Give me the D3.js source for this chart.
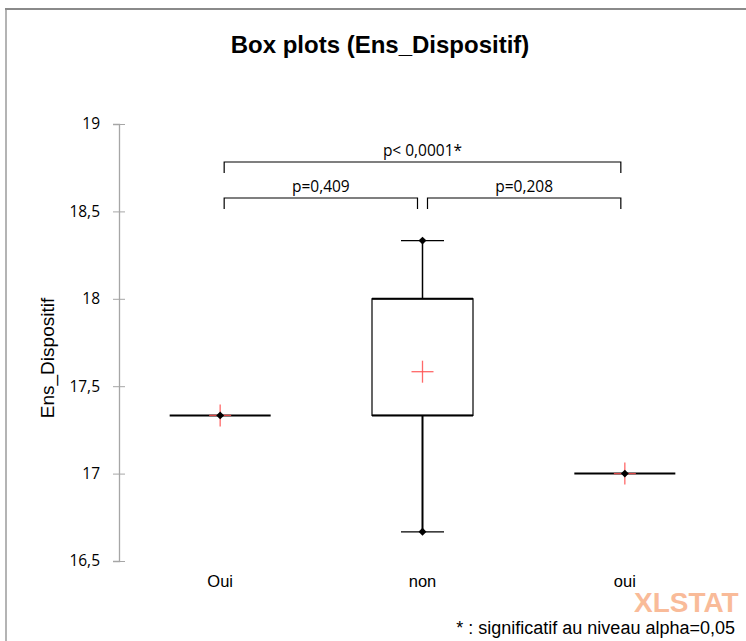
<!DOCTYPE html>
<html>
<head>
<meta charset="utf-8">
<script src="https://cdn.jsdelivr.net/npm/d3@7"></script>
<style>
  body { margin: 0; background: #fff; }
  svg { display: block; }
</style>
</head>
<body>
<div id="chart"></div>
<script>
// Data
var categories = ["Oui", "non", "oui"];
var minValues = [17.333, 16.667, 17];
var q1Values = [17.333, 17.333, 17];
var q3Values = [17.333, 18, 17];
var maxValues = [17.333, 18.333, 17];
var meanValues = [17.333, 17.583, 17];
var yTicks = [16.5, 17, 17.5, 18, 18.5, 19];
var comparisons = [
  { from: 0, to: 2, label: "p< 0,0001*", level: 1 },
  { from: 0, to: 1, label: "p=0,409", level: 0 },
  { from: 1, to: 2, label: "p=0,208", level: 0 }
];

var width = 746;
var height = 641;

var svg = d3.select('#chart')
  .append('svg')
  .attr('width', width)
  .attr('height', height);

// frame
svg.append('line').attr('x1', 6).attr('x2', 6).attr('y1', 9).attr('y2', height)
  .attr('stroke', '#b4b4b4').attr('stroke-width', 2);
svg.append('line').attr('x1', 5).attr('x2', width).attr('y1', 9).attr('y2', 9)
  .attr('stroke', '#8a8a8a').attr('stroke-width', 2);

// Scales
var yScale = d3.scaleLinear().domain([16.5, 19]).range([561, 124]);
var xScale = d3.scalePoint().domain(categories).range([119, 726]).padding(0.5);

// Title
svg.append('text')
  .attr('x', 380).attr('y', 53)
  .attr('text-anchor', 'middle')
  .style('font-family', 'Liberation Sans, Arial, sans-serif')
  .style('font-size', '24px').style('font-weight', 'bold')
  .text('Box plots (Ens_Dispositif)');

// Y axis
var yAxis = d3.axisLeft(yScale)
  .tickValues(yTicks)
  .tickSize(6)
  .tickFormat(function (d) { return String(d).replace('.', ','); });
var gy = svg.append('g')
  .attr('transform', 'translate(119,0)')
  .call(yAxis);
gy.select('.domain').attr('stroke', '#a6a6a6').attr('stroke-width', 1.3);
gy.selectAll('.tick line').attr('stroke', '#a6a6a6').attr('x1', 6).attr('x2', -6);
gy.selectAll('.tick text')
  .attr('x', -19)
  .style('font-family', 'Open Sans, sans-serif')
  .style('font-size', '15.5px')
  .attr('fill', '#000');

svg.append('text')
  .attr('transform', 'translate(54,' + 358 + ') rotate(-90)')
  .attr('text-anchor', 'middle')
  .style('font-family', 'Liberation Sans, Arial, sans-serif')
  .style('font-size', '19px')
  .text('Ens_Dispositif');

// Category labels
svg.selectAll('.cat')
  .data(categories)
  .enter()
  .append('text')
  .attr('class', 'cat')
  .attr('x', d => xScale(d))
  .attr('y', 587)
  .attr('text-anchor', 'middle')
  .style('font-family', 'Liberation Sans, Arial, sans-serif')
  .style('font-size', '16.5px')
  .text(d => d);

// Box plots
var boxW = 101;
var capW = 43;
categories.forEach(function (c, i) {
  var cx = xScale(c);
  var g = svg.append('g');
  // whiskers
  g.append('line').attr('x1', cx).attr('x2', cx)
    .attr('y1', yScale(maxValues[i])).attr('y2', yScale(q3Values[i]))
    .attr('stroke', '#000').attr('stroke-width', 1.5);
  g.append('line').attr('x1', cx).attr('x2', cx)
    .attr('y1', yScale(q1Values[i])).attr('y2', yScale(minValues[i]))
    .attr('stroke', '#000').attr('stroke-width', 2);
  if (maxValues[i] > q3Values[i]) {
    [maxValues[i], minValues[i]].forEach(function (v) {
      g.append('line').attr('x1', cx - capW / 2).attr('x2', cx + capW / 2)
        .attr('y1', yScale(v)).attr('y2', yScale(v))
        .attr('stroke', '#000').attr('stroke-width', 1.3);
    });
  }
  // box
  var h = yScale(q1Values[i]) - yScale(q3Values[i]);
  if (h > 0) {
    g.append('rect')
      .attr('x', cx - boxW / 2).attr('y', yScale(q3Values[i]))
      .attr('width', boxW).attr('height', h)
      .attr('fill', 'none').attr('stroke', '#000').attr('stroke-width', 1.2);
    [q1Values[i], q3Values[i]].forEach(function (v) {
      g.append('line').attr('x1', cx - boxW / 2).attr('x2', cx + boxW / 2)
        .attr('y1', yScale(v)).attr('y2', yScale(v))
        .attr('stroke', '#000').attr('stroke-width', 2);
    });
  } else {
    g.append('line').attr('x1', cx - boxW / 2).attr('x2', cx + boxW / 2)
      .attr('y1', yScale(q1Values[i])).attr('y2', yScale(q1Values[i]))
      .attr('stroke', '#000').attr('stroke-width', 2);
  }
  // mean (red cross)
  var my = yScale(meanValues[i]);
  g.append('line').attr('x1', cx - 11).attr('x2', cx + 11).attr('y1', my).attr('y2', my)
    .attr('stroke', '#ff5050').attr('stroke-width', 1.3).attr('opacity', 0.85);
  g.append('line').attr('x1', cx).attr('x2', cx).attr('y1', my - 11).attr('y2', my + 11)
    .attr('stroke', '#ff5050').attr('stroke-width', 1.3).attr('opacity', 0.85);
  // min / max diamonds
  var pts = h > 0 ? [minValues[i], maxValues[i]] : [minValues[i]];
  pts.forEach(function (v) {
    g.append('path')
      .attr('d', d3.symbol().type(d3.symbolDiamond2).size(40))
      .attr('transform', 'translate(' + cx + ',' + yScale(v) + ')')
      .attr('fill', '#000');
  });
});

// Comparison brackets
var levelY = [198, 162];
comparisons.forEach(function (c) {
  var x1 = xScale(categories[c.from]) + (c.from === 1 ? 5 : 4);
  var x2 = xScale(categories[c.to]) - (c.to === 1 ? 5 : 4);
  var y = levelY[c.level];
  svg.append('path')
    .attr('d', 'M' + x1 + ',' + (y + 11) + 'V' + y + 'H' + x2 + 'V' + (y + 11))
    .attr('fill', 'none').attr('stroke', '#000').attr('stroke-width', 1.2);
  svg.append('text')
    .attr('x', (x1 + x2) / 2).attr('y', y - 6)
    .attr('text-anchor', 'middle')
    .style('font-family', 'Open Sans, sans-serif')
    .style('font-size', '15.5px')
    .text(c.label);
});

// XLSTAT watermark
svg.append('text')
  .attr('x', 634).attr('y', 612)
  .style('font-family', 'Liberation Sans, Arial, sans-serif')
  .style('font-size', '28px').style('font-weight', 'bold')
  .attr('fill', '#f9b088').attr('opacity', 0.85)
  .text('XLSTAT');

// Footnote
svg.append('text')
  .attr('x', 735).attr('y', 634)
  .attr('text-anchor', 'end')
  .style('font-family', 'Liberation Sans, Arial, sans-serif')
  .style('font-size', '18px')
  .text('* : significatif au niveau alpha=0,05');
</script>
</body>
</html>
